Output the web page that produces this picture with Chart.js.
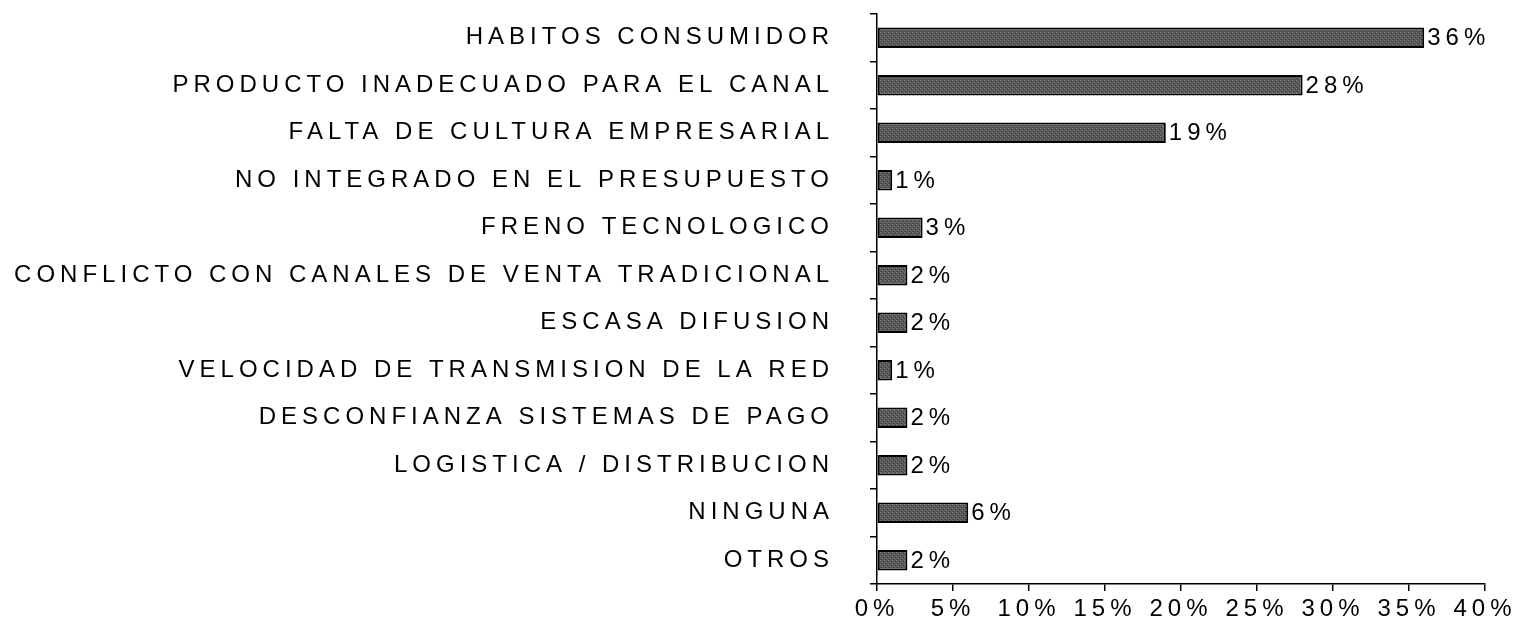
<!DOCTYPE html>
<html>
<head>
<meta charset="utf-8">
<script src="https://cdn.jsdelivr.net/npm/chart.js@4.4.0/dist/chart.umd.min.js"></script>
<style>
  html, body { margin: 0; padding: 0; background: #fff; }
  #wrap { width: 1535px; height: 623px; }
</style>
</head>
<body>
<div id="wrap"><canvas id="barrerasChart"></canvas></div>
<script>
const categories = [
    'HABITOS CONSUMIDOR',
    'PRODUCTO INADECUADO PARA EL CANAL',
    'FALTA DE CULTURA EMPRESARIAL',
    'NO INTEGRADO EN EL PRESUPUESTO',
    'FRENO TECNOLOGICO',
    'CONFLICTO CON CANALES DE VENTA TRADICIONAL',
    'ESCASA DIFUSION',
    'VELOCIDAD DE TRANSMISION DE LA RED',
    'DESCONFIANZA SISTEMAS DE PAGO',
    'LOGISTICA / DISTRIBUCION',
    'NINGUNA',
    'OTROS'
];
const percentages = [36, 28, 19, 1, 3, 2, 2, 1, 2, 2, 6, 2];
const xTicks = [0, 5, 10, 15, 20, 25, 30, 35, 40];

const FAMILY = '"Liberation Sans", Arial, sans-serif';
const LABEL_FONT = { family: FAMILY, size: 24 };

// speckled dark grey fill like the original
function makePattern() {
    const c = document.createElement('canvas');
    c.width = 4; c.height = 4;
    const g = c.getContext('2d');
    g.fillStyle = '#585858';
    g.fillRect(0, 0, 4, 4);
    g.fillStyle = '#7e7e7e';
    g.fillRect(0, 0, 1, 1);
    g.fillRect(2, 2, 1, 1);
    g.fillStyle = '#3c3c3c';
    g.fillRect(1, 3, 1, 1);
    g.fillRect(3, 1, 1, 1);
    return g.createPattern(c, 'repeat');
}

// wide letter spacing on all texts
const spacing = {
    id: 'spacing',
    beforeUpdate(chart) { chart.ctx.letterSpacing = '5px'; },
    beforeDraw(chart) { chart.ctx.letterSpacing = '5px'; }
};

const valueLabels = {
    id: 'valueLabels',
    afterDatasetsDraw(chart) {
        const ctx = chart.ctx;
        const meta = chart.getDatasetMeta(0);
        ctx.save();
        ctx.letterSpacing = '5px';
        ctx.font = LABEL_FONT.size + 'px ' + FAMILY;
        ctx.fillStyle = '#000';
        ctx.textAlign = 'left';
        ctx.textBaseline = 'middle';
        meta.data.forEach((bar, i) => {
            ctx.fillText(percentages[i] + '%', bar.x + 3, bar.y + 1);
        });
        ctx.restore();
    }
};

const ctx = document.getElementById('barrerasChart').getContext('2d');
const barrerasChart = new Chart(ctx, {
    type: 'bar',
    data: {
        labels: categories,
        datasets: [{
            data: percentages,
            backgroundColor: makePattern(),
            borderColor: '#000',
            borderWidth: 2,
            borderSkipped: false,
            categoryPercentage: 1,
            barPercentage: 0.43
        }]
    },
    options: {
        indexAxis: 'y',
        responsive: true,
        maintainAspectRatio: false,
        animation: false,
        layout: { padding: { left: 6, right: 50, top: 14, bottom: 0 } },
        plugins: {
            legend: { display: false },
            tooltip: { enabled: false }
        },
        scales: {
            x: {
                min: 0,
                max: 40,
                afterBuildTicks(scale) {
                    scale.ticks = xTicks.map(v => ({ value: v }));
                },
                afterFit(scale) { scale.height = 39; },
                grid: { drawOnChartArea: false, drawTicks: true, tickLength: 7, color: '#000', lineWidth: 1.5 },
                border: { color: '#000', width: 1.5 },
                ticks: {
                    color: '#000',
                    font: LABEL_FONT,
                    padding: 4,
                    maxRotation: 0,
                    callback: v => v + '%'
                }
            },
            y: {
                afterFit(scale) {
                    scale.width = 871;
                    // tick padding would otherwise push the plot down
                    scale.paddingTop = 0;
                    scale.paddingBottom = 0;
                },
                grid: { drawOnChartArea: false, drawTicks: true, tickLength: 7, color: '#000', lineWidth: 1.5, offset: true },
                border: { color: '#000', width: 1.5 },
                ticks: { color: '#000', font: LABEL_FONT, padding: 36, autoSkip: false }
            }
        }
    },
    plugins: [spacing, valueLabels]
});
</script>
</body>
</html>
